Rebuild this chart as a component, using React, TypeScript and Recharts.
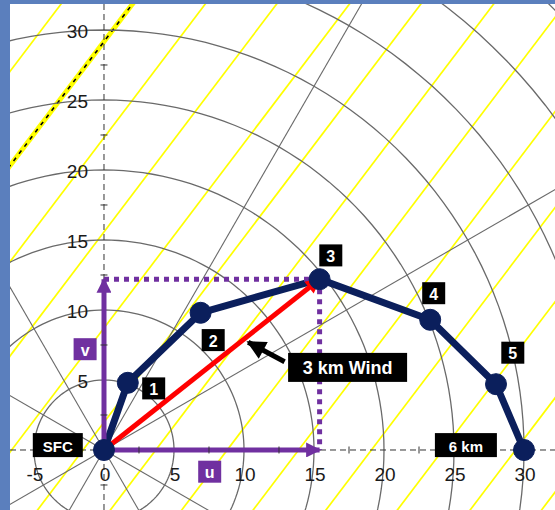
import {
  ComposedChart,
  Line,
  ReferenceDot,
  ReferenceLine,
  XAxis,
  YAxis,
} from "recharts";

// hodograph: wind components (kt) at each height
const levels = ["SFC", "1", "2", "3", "4", "5", "6 km"];
const uWind = [0, 1.7, 6.9, 15.4, 23.3, 28.0, 30.0];
const vWind = [0, 4.8, 9.8, 12.2, 9.3, 4.7, 0];

// where each level's box label sits
const labelU = [-3.3, 3.55, 7.8, 16.2, 23.55, 29.2, 25.85];
const labelV = [0.35, 4.4, 7.85, 13.9, 11.2, 6.95, 0.35];

// 3 km mean wind
const windLabel = "3 km Wind";
const windLabelAt = { x: 17.4, y: 5.9 };
const windPointerFrom = { x: 12.9, y: 6.3 };
const windPointerTo = { x: 10.3, y: 7.7 };
const componentLabels = ["u", "v"];
const uLabelAt = { x: 7.55, y: -1.55 };
const vLabelAt = { x: -1.35, y: 7.2 };

// grid
const ringRadii = [5, 10, 15, 20, 25, 30, 35, 40, 45];
const spokeAngles = [30, 60, 120, 150, 210, 240, 300, 330];
const stripeIntercepts = [
  -27.2, -22.1, -16.9, -11.8, -6.6, -1.5, 3.7, 8.8, 13.9, 19.1, 24.2, 29.4,
  34.5,
];
const dashedStripe = -22.1;
const stripeSlope = 1.32;

const xTicks = [-5, 0, 5, 10, 15, 20, 25, 30];
const yTicks = [5, 10, 15, 20, 25, 30];
const xMinorTicks = [-2.5, 2.5, 7.5, 12.5, 17.5, 22.5, 27.5];
const yMinorTicks = [-2.5, 2.5, 7.5, 12.5, 17.5, 22.5, 27.5];

const X_DOMAIN: [number, number] = [-6.714, 32.214];
const Y_DOMAIN: [number, number] = [-4.286, 31.857];

const NAVY = "#0b1f5c";
const PURPLE = "#7030a0";
const RED = "#ff0000";
const YELLOW = "#ffff00";
const GRID = "#6a6a6a";
const FONT = "'Liberation Sans', Arial, sans-serif";

const hodograph = levels.map((name, i) => ({
  name,
  x: uWind[i],
  y: vWind[i],
}));

function ring(r: number) {
  const pts = [];
  for (let i = 0; i <= 180; i++) {
    const a = (i / 180) * Math.PI * 2;
    pts.push({ x: r * Math.cos(a), y: r * Math.sin(a) });
  }
  return pts;
}

function BoxLabel(props: any) {
  const { cx, cy, text, boxFill } = props;
  const big = text === windLabel;
  const single = text.length === 1;
  const w = big ? 119 : single ? 23 : text.length * 12 + 14;
  const h = big ? 29 : single ? 22 : 24;
  return (
    <g>
      <rect
        x={cx - w / 2}
        y={cy - h / 2}
        width={w}
        height={h}
        fill={boxFill || "#000"}
      />
      <text
        x={cx}
        y={cy + 1}
        textAnchor="middle"
        dominantBaseline="central"
        fill="#fff"
        fontFamily={FONT}
        fontWeight="bold"
        fontSize={big ? 18 : single ? 16 : 15}
      >
        {text}
      </text>
    </g>
  );
}

function TickText(props: any) {
  const { cx, cy, text, axis } = props;
  const isX = axis === "x";
  return (
    <text
      x={isX ? cx + 1 : cx - 16}
      y={isX ? cy + 25 : cy + 2}
      textAnchor={isX ? "middle" : "end"}
      dominantBaseline="central"
      fill="#1a1a1a"
      fontFamily={FONT}
      fontSize={19}
    >
      {text}
    </text>
  );
}

function MinorTick(props: any) {
  const { cx, cy, axis } = props;
  return axis === "x" ? (
    <line x1={cx} x2={cx} y1={cy - 3.5} y2={cy + 3.5} stroke="#333" />
  ) : (
    <line x1={cx - 3.5} x2={cx + 3.5} y1={cy} y2={cy} stroke="#333" />
  );
}

export default function App() {
  return (
    <div
      style={{
        position: "absolute",
        left: 0,
        top: 0,
        width: 555,
        height: 510,
        background: "#5b7fbd",
      }}
    >
      <div
        style={{
          position: "absolute",
          left: 10,
          top: 4,
          width: 545,
          height: 506,
          background: "#fff",
        }}
      >
        <ComposedChart
          width={545}
          height={506}
          margin={{ top: 0, right: 0, bottom: 0, left: 0 }}
        >
          <defs>
            <marker
              id="headRed"
              viewBox="0 0 10 10"
              refX="9"
              refY="5"
              markerUnits="userSpaceOnUse"
              markerWidth="18"
              markerHeight="15"
              orient="auto"
            >
              <path d="M0,0 L10,5 L0,10 z" fill={RED} />
            </marker>
            <marker
              id="headPurple"
              viewBox="0 0 10 10"
              refX="9"
              refY="5"
              markerUnits="userSpaceOnUse"
              markerWidth="17"
              markerHeight="15"
              orient="auto"
            >
              <path d="M0,0 L10,5 L0,10 z" fill={PURPLE} />
            </marker>
            <marker
              id="headBlack"
              viewBox="0 0 10 10"
              refX="9"
              refY="5"
              markerUnits="userSpaceOnUse"
              markerWidth="20"
              markerHeight="19"
              orient="auto"
            >
              <path d="M0,0 L10,5 L0,10 z" fill="#000" />
            </marker>
          </defs>
          <XAxis
            type="number"
            dataKey="x"
            domain={X_DOMAIN}
            allowDataOverflow
            hide
          />
          <YAxis
            type="number"
            dataKey="y"
            domain={Y_DOMAIN}
            allowDataOverflow
            hide
          />

          {stripeIntercepts.map((c) => (
            <ReferenceLine
              key={`s${c}`}
              segment={[
                { x: c + -6 / stripeSlope, y: -6 },
                { x: c + 34 / stripeSlope, y: 34 },
              ]}
              stroke={YELLOW}
              strokeWidth={c === dashedStripe ? 5 : 1.7}
              ifOverflow="hidden"
            />
          ))}
          <ReferenceLine
            segment={[
              { x: dashedStripe + -6 / stripeSlope, y: -6 },
              { x: dashedStripe + 34 / stripeSlope, y: 34 },
            ]}
            stroke="#000"
            strokeWidth={1.6}
            strokeDasharray="4 5"
            ifOverflow="hidden"
          />

          {ringRadii.map((r) => (
            <Line
              key={`r${r}`}
              data={ring(r)}
              dataKey="y"
              type="linear"
              stroke={GRID}
              strokeWidth={1.3}
              dot={false}
              activeDot={false}
              isAnimationActive={false}
            />
          ))}
          {spokeAngles.map((a) => (
            <ReferenceLine
              key={`a${a}`}
              segment={[
                { x: 0, y: 0 },
                {
                  x: 60 * Math.cos((a * Math.PI) / 180),
                  y: 60 * Math.sin((a * Math.PI) / 180),
                },
              ]}
              stroke={GRID}
              strokeWidth={1.1}
              ifOverflow="hidden"
            />
          ))}

          <ReferenceLine
            x={0}
            stroke="#333"
            strokeWidth={1}
            strokeDasharray="6 4"
          />
          <ReferenceLine
            y={0}
            stroke="#333"
            strokeWidth={1}
            strokeDasharray="6 4"
          />
          {xMinorTicks.map((t) => (
            <ReferenceDot
              key={`xm${t}`}
              x={t}
              y={0}
              r={0}
              shape={(p: any) => <MinorTick {...p} axis="x" />}
            />
          ))}
          {yMinorTicks.map((t) => (
            <ReferenceDot
              key={`ym${t}`}
              x={0}
              y={t}
              r={0}
              shape={(p: any) => <MinorTick {...p} axis="y" />}
            />
          ))}
          {xTicks.map((t) => (
            <ReferenceDot
              key={`xt${t}`}
              x={t}
              y={0}
              r={0}
              ifOverflow="visible"
              shape={(p: any) => <TickText {...p} axis="x" text={String(t)} />}
            />
          ))}
          {yTicks.map((t) => (
            <ReferenceDot
              key={`yt${t}`}
              x={0}
              y={t}
              r={0}
              ifOverflow="visible"
              shape={(p: any) => <TickText {...p} axis="y" text={String(t)} />}
            />
          ))}

          <Line
            data={hodograph}
            dataKey="y"
            type="linear"
            stroke={NAVY}
            strokeWidth={7}
            dot={{ r: 10.5, fill: NAVY, stroke: NAVY, strokeWidth: 1 }}
            activeDot={false}
            isAnimationActive={false}
          />

          {/* u / v components of the 3 km wind */}
          <ReferenceLine
            segment={[
              { x: 0, y: vWind[3] },
              { x: uWind[3], y: vWind[3] },
            ]}
            stroke={PURPLE}
            strokeWidth={5}
            strokeDasharray="5 5"
          />
          <ReferenceLine
            segment={[
              { x: uWind[3], y: vWind[3] },
              { x: uWind[3], y: 0 },
            ]}
            stroke={PURPLE}
            strokeWidth={5}
            strokeDasharray="5 5"
          />
          <ReferenceLine
            segment={[
              { x: 0, y: 0 },
              { x: uWind[3], y: 0 },
            ]}
            stroke={PURPLE}
            strokeWidth={5}
            markerEnd="url(#headPurple)"
          />
          <ReferenceLine
            segment={[
              { x: 0, y: 0 },
              { x: 0, y: vWind[3] },
            ]}
            stroke={PURPLE}
            strokeWidth={5}
            markerEnd="url(#headPurple)"
          />
          <ReferenceLine
            segment={[
              { x: 0, y: 0 },
              { x: uWind[3], y: vWind[3] },
            ]}
            stroke={RED}
            strokeWidth={5}
            markerEnd="url(#headRed)"
          />
          <ReferenceLine
            segment={[windPointerFrom, windPointerTo]}
            stroke="#000"
            strokeWidth={5}
            markerEnd="url(#headBlack)"
          />

          {levels.map((name, i) => (
            <ReferenceDot
              key={`l${name}`}
              x={labelU[i]}
              y={labelV[i]}
              r={0}
              ifOverflow="visible"
              shape={(p: any) => <BoxLabel {...p} text={name} />}
            />
          ))}
          <ReferenceDot
            x={windLabelAt.x}
            y={windLabelAt.y}
            r={0}
            ifOverflow="visible"
            shape={(p: any) => <BoxLabel {...p} text={windLabel} />}
          />
          <ReferenceDot
            x={uLabelAt.x}
            y={uLabelAt.y}
            r={0}
            ifOverflow="visible"
            shape={(p: any) => (
              <BoxLabel {...p} text={componentLabels[0]} boxFill={PURPLE} />
            )}
          />
          <ReferenceDot
            x={vLabelAt.x}
            y={vLabelAt.y}
            r={0}
            ifOverflow="visible"
            shape={(p: any) => (
              <BoxLabel {...p} text={componentLabels[1]} boxFill={PURPLE} />
            )}
          />
        </ComposedChart>
      </div>
    </div>
  );
}
